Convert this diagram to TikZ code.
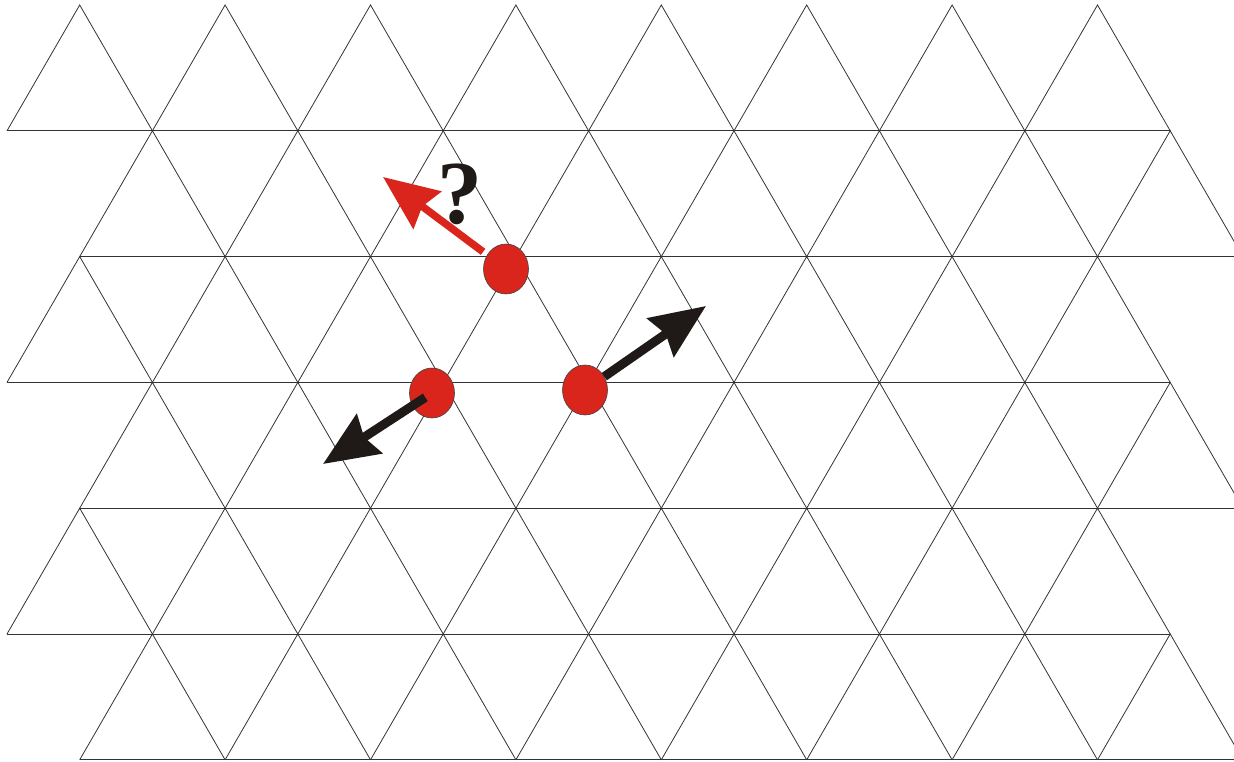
\documentclass[tikz,border=0pt]{standalone}
\usepackage{fontspec}
\setmainfont{Liberation Serif}
\usetikzlibrary{arrows.meta,shapes.geometric}
\definecolor{dotred}{HTML}{DA251D}
\definecolor{ink}{HTML}{1F1A17}
\begin{document}
\begin{tikzpicture}[x=1pt,y=-1pt,
  grid/.style={line width=0.8pt, draw=black!80},
  dot/.style={ellipse, draw=black!75, line width=0.6pt, fill=dotred,
    minimum width=45pt, minimum height=50pt, inner sep=0pt},
  blackarrow/.style={line width=9pt, draw=ink, fill=ink,
    -{Stealth[length=55pt,width=46pt,inset=6pt]}},
  redarrow/.style={line width=7.5pt, draw=dotred, fill=dotred,
    -{Stealth[length=55pt,width=46pt,inset=6pt]}},
  qmark/.style={font=\fontsize{90}{90}\selectfont\bfseries, text=ink,
    inner sep=0pt, anchor=base}]
\useasboundingbox (0,0) rectangle (1234,762);
\def\a{145.4}
\def\h{125.8}
\begin{scope}
\clip (0,0) rectangle (1234,762);
\foreach \j in {1,3,5}
  \draw[grid] (7,{5+\j*\h}) -- ({7+8*\a},{5+\j*\h});
\foreach \j in {2,4,6}
  \draw[grid] ({7+\a/2},{5+\j*\h}) -- (1234,{5+\j*\h});
\foreach \j in {0,2,4}
  \foreach \k in {0,...,7}
    \draw[grid] ({7+\a*\k},{5+(\j+1)*\h}) -- ({7+\a/2+\a*\k},{5+\j*\h})
      -- ({7+\a*(\k+1)},{5+(\j+1)*\h});
\foreach \j in {1,3,5}
  \foreach \k in {1,...,8}
    \draw[grid] ({7+\a*\k-\a/2},{5+(\j+1)*\h}) -- ({7+\a*\k},{5+\j*\h})
      -- ({7+\a*\k+\a/2},{5+(\j+1)*\h});
\end{scope}
\coordinate (rt) at (383,177);
\coordinate (bt) at (706,306);
\coordinate (ct) at (323,464);
\node[dot] (dA) at (506,269) {};
\node[dot] (dB) at (585,390) {};
\node[dot] (dC) at (432,393) {};
\draw[redarrow, shorten <=5pt] (dA) -- (rt);
\draw[blackarrow] (dB) -- (bt);
\draw[blackarrow, shorten <=8pt] (dC.center) -- (ct);
\node[qmark] (q) at (460,223) {?};
\end{tikzpicture}
\end{document}
